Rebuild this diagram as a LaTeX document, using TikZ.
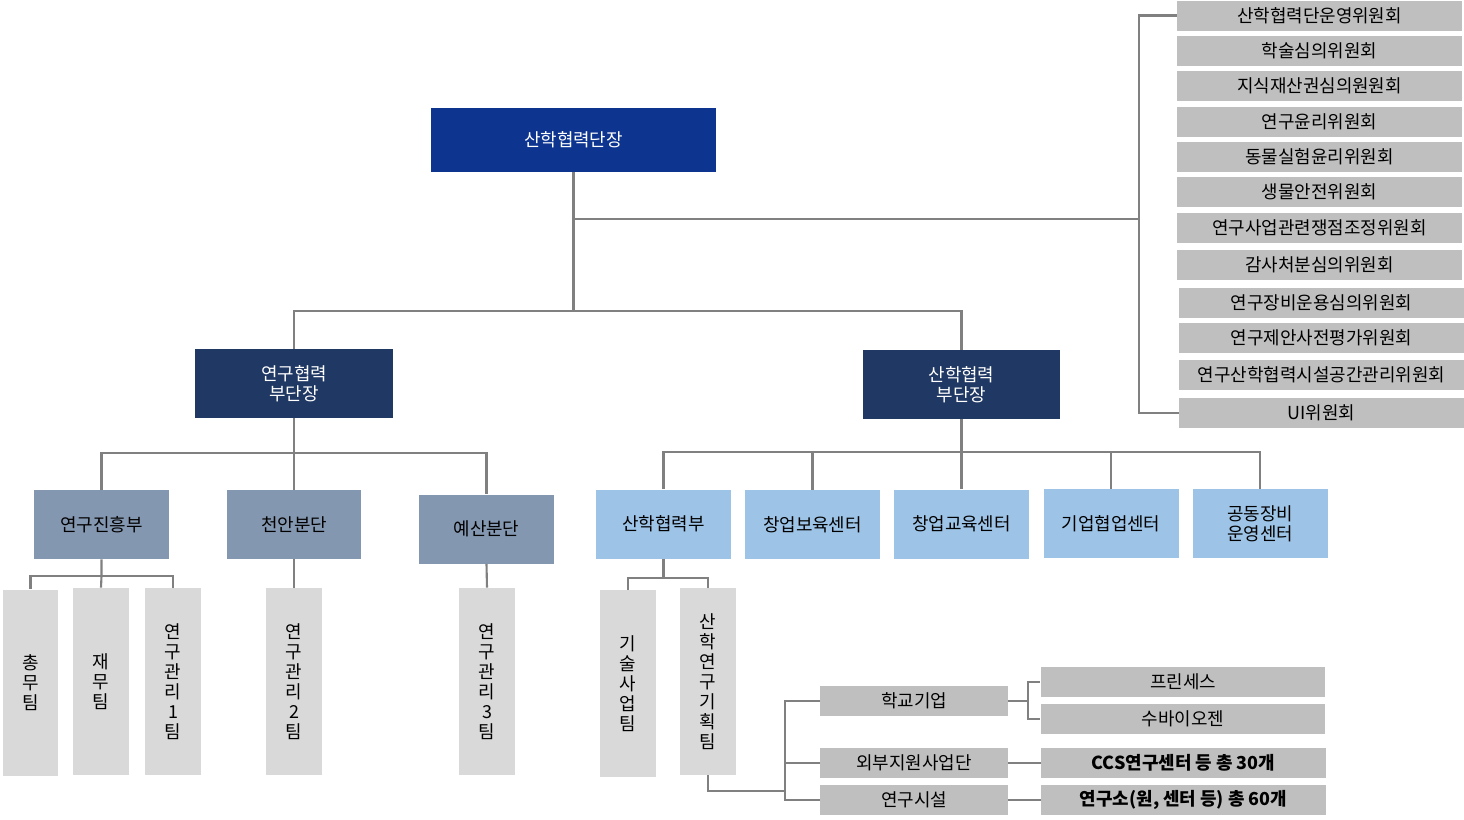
\documentclass[tikz,border=0pt]{standalone}
\usepackage{fontspec}
\setmainfont{Noto Sans CJK KR}
\definecolor{topblue}{RGB}{13,53,144}
\definecolor{navy}{RGB}{32,56,100}
\definecolor{slate}{RGB}{132,151,176}
\definecolor{skyblue}{RGB}{157,195,230}
\definecolor{lightgray}{RGB}{217,217,217}
\definecolor{midgray}{RGB}{191,191,191}
\definecolor{linegray}{RGB}{128,128,128}
\tikzset{
	box/.style={inner sep=0pt, align=center, font=\fontsize{10.2}{11.4}\selectfont},
	headbox/.style={box, fill=topblue, text=white, minimum width=5.7cm, minimum height=1.28cm},
	vicebox/.style={box, fill=navy, text=white, minimum width=3.96cm, minimum height=1.38cm},
	deptbox/.style={box, fill=slate, minimum width=2.7cm, minimum height=1.38cm},
	ctrbox/.style={box, fill=skyblue, minimum width=2.7cm, minimum height=1.38cm},
	teambox/.style={box, fill=lightgray, minimum width=1.12cm, minimum height=3.74cm},
	cbox/.style={box, fill=midgray, minimum width=5.7cm, minimum height=0.6cm},
	subbox/.style={box, fill=midgray, minimum width=3.76cm, minimum height=0.6cm},
	conn/.style={draw=linegray, line width=1.2pt}
}
\begin{document}
\begin{tikzpicture}[x=0.02cm, y=-0.02cm]
\useasboundingbox (0,0) rectangle (1464,819);
% top
\node[headbox] (head) at (573.5,140) {산학협력단장};
\node[vicebox] (vp1) at (294,383.5) {연구협력\\부단장};
\node[vicebox] (vp2) at (961.5,384.5) {산학협력\\부단장};
% committees
\foreach \x/\y/\t [count=\i] in {1319.5/15.5/산학협력단운영위원회, 1319.5/51/학술심의위원회, 1319.5/86/지식재산권심의원원회,
	1319.5/121.5/연구윤리위원회, 1319.5/157/동물실험윤리위원회, 1319.5/192/생물안전위원회,
	1319.5/228/연구사업관련쟁점조정위원회, 1319.5/265/감사처분심의위원회, 1321.5/302.5/연구장비운용심의위원회,
	1321.5/338/연구제안사전평가위원회, 1321.5/375/연구산학협력시설공간관리위원회, 1321.5/413/UI위원회}
{
	\node[cbox] (c\i) at (\x,\y) {\t};
}
% left branch
\node[deptbox] (d1) at (101.5,524.5) {연구진흥부};
\node[deptbox] (d2) at (294,524.5) {천안분단};
\node[deptbox] (d3) at (486.5,529) {예산분단};
\node[teambox] (t1) at (30.5,683) {총\\무\\팀};
\node[teambox] (t2) at (101,681.5) {재\\무\\팀};
\node[teambox] (t3) at (173,681.5) {연\\구\\관\\리\\1\\팀};
\node[teambox] (t4) at (294,681.5) {연\\구\\관\\리\\2\\팀};
\node[teambox] (t5) at (487,681.5) {연\\구\\관\\리\\3\\팀};
% right branch
\node[ctrbox] (r1) at (663.5,524) {산학협력부};
\node[ctrbox] (r2) at (812.5,524.5) {창업보육센터};
\node[ctrbox] (r3) at (961.5,524) {창업교육센터};
\node[ctrbox] (r4) at (1111,523.5) {기업협업센터};
\node[ctrbox] (r5) at (1260,523.5) {공동장비\\운영센터};
\node[teambox] (t6) at (628,683.5) {기\\술\\사\\업\\팀};
\node[teambox] (t7) at (708,681.5) {산\\학\\연\\구\\기\\획\\팀};
\node[subbox] (s1) at (914,701) {학교기업};
\node[subbox] (s2) at (914,763) {외부지원사업단};
\node[subbox] (s3) at (914,800) {연구시설};
\node[cbox] (k1) at (1183,682) {프린세스};
\node[cbox] (k2) at (1183,719) {수바이오젠};
\node[cbox] (k3) at (1183.5,763) {\bfseries CCS연구센터 등 총 30개};
\node[cbox] (k4) at (1183.5,800) {\bfseries 연구소(원, 센터 등) 총 60개};
% junctions
\coordinate (bus1) at (0,311);
\coordinate (cj) at (1139,219);
\coordinate (bus2) at (0,453);
\coordinate (bus3) at (0,576);
\coordinate (bus4) at (0,452);
\coordinate (bus5) at (0,578);
\coordinate (sj) at (785,791);
\coordinate (kx) at (1028,0);
% connectors
\draw[conn] (head.south) -- (head.south |- bus1);
\draw[conn] (head.south |- cj) -- (cj);
\draw[conn] (c1.west) -| (cj |- c12.west) -- (c12.west);
\draw[conn] (vp1.north) |- (vp2.north |- bus1) -- (vp2.north);
\draw[conn] (vp1.south) -- (d2.north);
\draw[conn] (d1.north) |- (d3.north |- bus2) -- (d3.north);
\draw[conn] (d1.south) -- (d1.south |- bus3) -- (t2.north);
\draw[conn] (t1.north) |- (t3.north |- bus3) -- (t3.north);
\draw[conn] (d2.south) -- (t4.north);
\draw[conn] (d3.south) -- (t5.north);
\draw[conn] (vp2.south) -- (r3.north);
\draw[conn] (r1.north) |- (r5.north |- bus4) -- (r5.north);
\draw[conn] (r2.north) -- (r2.north |- bus4);
\draw[conn] (r4.north) -- (r4.north |- bus4);
\draw[conn] (r1.south) -- (r1.south |- bus5);
\draw[conn] (t6.north) |- (t7.north |- bus5) -- (t7.north);
\draw[conn] (t7.south) |- (sj);
\draw[conn] (s1.west) -| (sj |- s3.west) -- (s3.west);
\draw[conn] (s2.west) -- (sj |- s2.west);
\draw[conn] (s1.east) -- (kx |- s1.east);
\draw[conn] (k1.west) -| (kx |- k2.west) -- (k2.west);
\draw[conn] (s2.east) -- (k3.west);
\draw[conn] (s3.east) -- (k4.west);
\end{tikzpicture}
\end{document}
